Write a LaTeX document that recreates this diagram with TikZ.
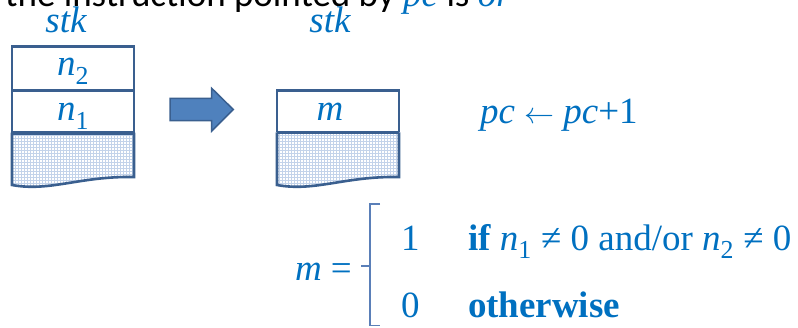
\documentclass[tikz,border=0pt]{standalone}
\usepackage{graphicx}
\usepackage{fontspec}
\setmainfont{Liberation Serif}
\newfontfamily\calfont{Carlito}
\definecolor{txtblue}{HTML}{0070C0}
\definecolor{boxline}{HTML}{3A5F8F}
\definecolor{hatch}{HTML}{C3D3EA}
\definecolor{arrfill}{HTML}{4F81BD}
\definecolor{arrline}{HTML}{3A5F8F}
\definecolor{bracecol}{HTML}{5A7FB8}
\begin{document}
\begin{tikzpicture}[x=1pt,y=-1pt,
  big/.style={inner sep=0pt,outer sep=0pt,text=txtblue,font=\fontsize{37}{40}\selectfont,anchor=base west},
  bigc/.style={big,anchor=base},
  cellline/.style={draw=boxline,line width=2.6pt},
  divline/.style={draw=boxline,line width=3.6pt}
]
\useasboundingbox (0,0) rectangle (798,327);

% top cut-off sentence
\node[inner sep=0pt,anchor=base west,font=\calfont\fontsize{37}{40}\selectfont] (title) at (5,6)
  {the instruction pointed by \textcolor{txtblue}{\rmfamily\itshape pc} is \textcolor{txtblue}{\rmfamily\itshape or}};

% labels
\node[bigc] (stkL) at (66,32) {\itshape stk};
\node[bigc] (stkR) at (330,32) {\itshape stk};

% ---- left stack
\begin{scope}
  \clip (12,132.7) -- (134,132.7) -- (134,177) .. controls (80,176) and (50,192) .. (12,185) -- cycle;
  \fill[white] (10,130) rectangle (136,195);
  \draw[hatch,line width=1pt,step=3pt] (10,130) grid (136,195);
\end{scope}
\draw[cellline,line join=miter] (12,132.7) -- (12,46.7) -- (134,46.7) -- (134,132.7);
\draw[cellline] (12,132.7) -- (12,185) .. controls (50,192) and (80,176) .. (134,177) -- (134,132.7);
\draw[cellline] (12,90.7) -- (134,90.7);
\draw[divline] (12,132.7) -- (134,132.7);
\node[bigc] (n2) at (73,75.7) {\itshape n\textsubscript{\upshape 2}};
\node[bigc] (n1) at (73,120.7) {\itshape n\textsubscript{\upshape 1}};

% ---- block arrow
\draw[fill=arrfill,draw=arrline,line width=1.5pt,line join=miter]
  (170,98.3) -- (211.7,98.3) -- (211.7,88.3) -- (233.3,109.5) -- (211.7,131) -- (211.7,120.5) -- (170,120.5) -- cycle;

% ---- right stack
\begin{scope}
  \clip (277,132.3) -- (399,132.3) -- (399,177) .. controls (345,176) and (315,192) .. (277,185) -- cycle;
  \fill[white] (275,130) rectangle (401,195);
  \draw[hatch,line width=1pt,step=3pt] (275,130) grid (401,195);
\end{scope}
\draw[cellline,line join=miter] (277,132.3) -- (277,90.7) -- (399,90.7) -- (399,132.3);
\draw[cellline] (277,132.3) -- (277,185) .. controls (315,192) and (345,176) .. (399,177) -- (399,132.3);
\draw[divline] (277,132.3) -- (399,132.3);
\node[bigc] (m) at (330,120.7) {\itshape m};

% pc update
\node[big] (pc) at (480,123) {\itshape pc\upshape\ \resizebox{30pt}{!}{$\leftarrow$}\ \itshape pc\upshape +1};

% ---- definition of m
\node[big] (mdef) at (295,280) {\itshape m\upshape\ =};
\draw[bracecol,line width=1.2pt] (380,204) -- (370,204) -- (370,266) -- (361,266) (370,266) -- (370,325.5) -- (380,325.5);
\node[big] (one) at (401,250) {1};
\node[big] (cond) at (468,250) {\bfseries if \mdseries\itshape n\textsubscript{\upshape 1}\upshape\ ≠ 0 and/or \itshape n\textsubscript{\upshape 2}\upshape\ ≠ 0};
\node[big] (zero) at (401,317) {0};
\node[big] (other) at (468,317) {\bfseries otherwise};
\end{tikzpicture}
\end{document}
